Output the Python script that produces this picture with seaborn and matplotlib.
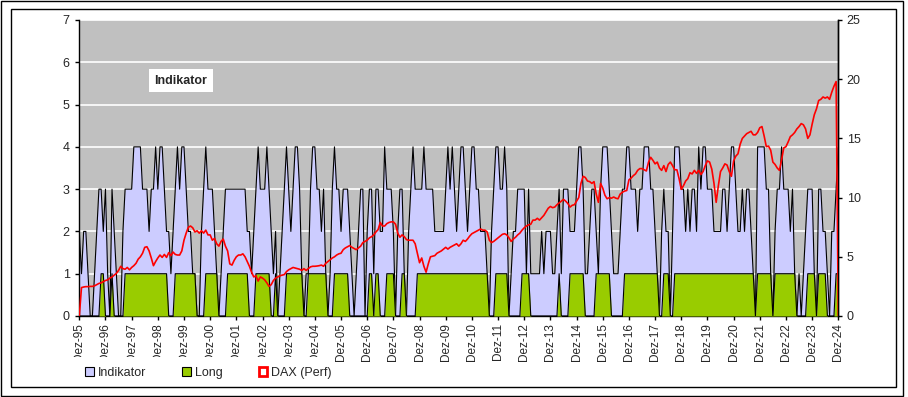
import numpy as np
import matplotlib
matplotlib.use("Agg")
import matplotlib.pyplot as plt
from matplotlib.patches import Patch, Rectangle
from matplotlib.transforms import Bbox
import seaborn as sns

# monthly values, Dez-95 .. Dez-24 (first value = Dez-95, then one row per year Jan..Dez)
indikator = [2,
    1, 2, 2, 1, 0, 0, 1, 2, 3, 3, 2, 3,
    1, 0, 3, 2, 1, 0, 0, 2, 3, 3, 3, 3,
    4, 4, 4, 4, 3, 3, 3, 2, 3, 3, 4, 3,
    4, 4, 3, 2, 2, 1, 2, 3, 4, 3, 4, 4,
    3, 2, 2, 1, 1, 0, 0, 2, 3, 4, 3, 3,
    3, 2, 1, 0, 1, 2, 3, 3, 3, 3, 3, 3,
    3, 3, 3, 3, 2, 2, 1, 2, 3, 4, 3, 3,
    3, 4, 3, 2, 1, 2, 0, 1, 2, 3, 4, 3,
    2, 3, 4, 4, 3, 1, 0, 1, 1, 3, 4, 4,
    3, 3, 2, 3, 1, 0, 1, 3, 4, 3, 3, 2,
    3, 3, 3, 2, 1, 0, 1, 2, 3, 3, 0, 2,
    3, 3, 1, 3, 3, 2, 2, 4, 3, 3, 3, 2,
    0, 2, 3, 3, 1, 0, 2, 3, 4, 3, 3, 3,
    3, 4, 3, 3, 3, 3, 2, 2, 2, 2, 2, 3,
    4, 3, 4, 3, 2, 3, 4, 4, 3, 2, 3, 4,
    4, 3, 3, 2, 2, 2, 1, 0, 2, 3, 4, 4,
    3, 3, 4, 3, 0, 1, 2, 2, 3, 3, 3, 3,
    1, 3, 1, 1, 1, 1, 1, 2, 1, 2, 2, 2,
    1, 1, 2, 3, 1, 3, 3, 3, 2, 2, 2, 3,
    4, 4, 3, 1, 1, 2, 3, 3, 2, 1, 3, 4,
    4, 4, 3, 2, 1, 1, 1, 2, 3, 3, 4, 4,
    3, 3, 3, 2, 3, 3, 4, 4, 4, 3, 3, 2,
    1, 0, 2, 3, 2, 2, 0, 2, 4, 4, 4, 3,
    3, 2, 3, 2, 3, 3, 2, 4, 3, 4, 4, 3,
    3, 3, 2, 2, 2, 2, 3, 3, 2, 3, 4, 4,
    3, 2, 2, 3, 2, 3, 3, 2, 1, 0, 4, 4,
    4, 4, 3, 3, 1, 0, 2, 3, 3, 4, 3, 3,
    3, 2, 3, 1, 0, 1, 0, 1, 2, 3, 3, 3,
    1, 0, 3, 3, 2, 2, 1, 0, 2, 2, 3, 4]

long_sig = [0,
    0, 0, 0, 0, 0, 0, 0, 0, 0, 1, 1, 0,
    0, 0, 1, 0, 0, 0, 0, 0, 1, 1, 1, 1,
    1, 1, 1, 1, 1, 1, 1, 1, 1, 1, 1, 1,
    1, 1, 1, 1, 0, 0, 0, 1, 1, 1, 1, 1,
    1, 1, 1, 1, 1, 0, 0, 0, 0, 1, 1, 1,
    1, 1, 1, 0, 0, 0, 0, 1, 1, 1, 1, 1,
    1, 1, 1, 1, 1, 0, 0, 0, 1, 1, 1, 1,
    1, 1, 1, 0, 0, 1, 0, 0, 0, 0, 1, 1,
    1, 1, 1, 1, 1, 1, 0, 0, 1, 1, 1, 1,
    1, 1, 1, 1, 1, 0, 0, 0, 1, 1, 1, 1,
    1, 1, 1, 0, 0, 0, 0, 0, 0, 0, 0, 0,
    1, 1, 0, 1, 1, 0, 0, 0, 1, 1, 1, 1,
    0, 0, 0, 1, 1, 0, 0, 0, 0, 0, 1, 1,
    1, 1, 1, 1, 1, 1, 1, 1, 1, 1, 1, 1,
    1, 1, 1, 1, 1, 1, 1, 1, 1, 1, 1, 1,
    1, 1, 1, 1, 1, 1, 1, 0, 0, 0, 1, 1,
    1, 1, 1, 1, 0, 0, 0, 0, 0, 0, 1, 1,
    1, 1, 0, 0, 0, 0, 0, 0, 0, 0, 0, 0,
    0, 0, 0, 1, 0, 0, 0, 0, 1, 1, 1, 1,
    1, 1, 1, 0, 0, 0, 0, 0, 1, 1, 1, 1,
    1, 1, 1, 0, 0, 0, 0, 0, 0, 1, 1, 1,
    1, 1, 1, 1, 1, 1, 1, 1, 1, 1, 1, 1,
    1, 0, 0, 1, 1, 1, 0, 0, 1, 1, 1, 1,
    1, 1, 1, 1, 1, 1, 1, 1, 1, 1, 1, 1,
    1, 1, 1, 1, 1, 1, 1, 1, 1, 1, 1, 1,
    1, 1, 1, 1, 1, 1, 1, 1, 1, 0, 1, 1,
    1, 1, 1, 1, 1, 0, 1, 1, 1, 1, 1, 1,
    1, 1, 1, 1, 0, 0, 0, 0, 0, 1, 1, 1,
    1, 0, 1, 1, 1, 1, 0, 0, 0, 0, 1, 1]

dax_perf = [0,
    2.4, 2.45, 2.48, 2.48, 2.5, 2.5, 2.55, 2.65, 2.75, 2.8, 2.9, 3.0,
    3.05, 3.2, 3.3, 3.45, 3.6, 3.85, 4.2, 4.0, 3.95, 4.1, 3.9, 4.1,
    4.25, 4.45, 4.8, 5.0, 5.3, 5.8, 5.85, 5.5, 4.9, 4.25, 4.6, 4.9,
    5.15, 4.95, 5.2, 4.95, 5.35, 5.1, 5.4, 5.2, 5.15, 5.15, 5.5, 6.4,
    7.0, 7.5, 7.6, 7.45, 7.1, 7.2, 7.0, 7.2, 7.0, 7.25, 6.85, 6.85,
    6.4, 6.55, 6.1, 5.9, 6.3, 6.5, 5.9, 5.5, 4.4, 4.3, 4.7, 5.0,
    5.15, 5.15, 5.25, 5.0, 4.6, 4.2, 3.7, 3.3, 3.4, 2.95, 3.3, 3.2,
    3.05, 2.8, 2.5, 2.65, 3.0, 3.2, 3.3, 3.4, 3.45, 3.5, 3.75, 3.9,
    4.0, 4.1, 4.05, 4.0, 3.95, 3.85, 4.0, 3.85, 4.0, 4.15, 4.2, 4.2,
    4.22, 4.25, 4.3, 4.2, 4.45, 4.6, 4.75, 4.9, 5.0, 5.15, 5.25, 5.3,
    5.6, 5.75, 5.85, 5.95, 5.8, 5.7, 5.6, 5.75, 5.9, 6.2, 6.3, 6.4,
    6.6, 6.7, 6.85, 7.1, 7.3, 7.9, 7.6, 7.6, 7.8, 7.9, 7.95, 7.95,
    7.75, 7.0, 6.65, 6.85, 6.7, 6.45, 6.4, 6.4, 6.4, 6.1, 5.3, 4.5,
    4.9, 4.2, 3.7, 4.4, 5.0, 5.05, 5.1, 5.3, 5.4, 5.5, 5.65, 5.8,
    5.65, 5.8, 5.9, 6.0, 6.1, 5.9, 6.1, 6.4, 6.3, 6.5, 6.75, 6.95,
    7.05, 7.15, 7.25, 7.35, 7.25, 7.25, 7.1, 6.4, 6.2, 6.3, 6.45, 6.6,
    6.75, 6.9, 6.95, 6.85, 6.6, 6.3, 6.5, 6.65, 6.85, 7.0, 7.25, 7.45,
    7.6, 7.7, 7.75, 8.1, 8.1, 8.25, 8.1, 8.3, 8.5, 8.8, 9.1, 9.25,
    9.15, 9.2, 9.4, 9.55, 9.7, 9.85, 9.7, 9.5, 9.2, 9.35, 9.4, 9.7,
    10.0, 11.2, 11.8, 11.7, 11.4, 11.35, 11.2, 11.35, 10.3, 9.6, 11.2, 10.8,
    10.2, 9.9, 10.0, 9.95, 10.05, 9.95, 9.9, 10.3, 10.45, 10.55, 10.6, 11.5,
    11.65, 11.85, 12.0, 12.3, 12.45, 12.45, 12.35, 12.25, 13.0, 13.4, 13.15, 12.85,
    13.0, 12.5, 12.3, 12.7, 12.2, 12.8, 13.0, 12.7, 12.35, 12.35, 11.6, 10.7,
    11.0, 11.4, 11.6, 12.1, 12.0, 12.3, 12.05, 12.3, 11.95, 12.2, 12.7, 13.1,
    13.0, 12.4, 11.2, 9.6, 11.0, 12.2, 12.5, 12.85, 12.75, 12.2, 11.8, 13.1,
    13.5, 13.7, 14.5, 15.0, 15.2, 15.4, 15.5, 15.6, 15.3, 15.3, 15.5, 15.9,
    16.0, 15.2, 14.3, 14.35, 14.0, 13.0, 12.8, 12.5, 12.3, 13.2, 14.2, 14.3,
    14.7, 15.15, 15.3, 15.5, 15.8, 16.0, 16.25, 16.15, 15.8, 15.0, 15.3, 16.2,
    17.0, 17.5, 18.2, 18.3, 18.5, 18.4, 18.5, 18.3, 18.9, 19.4, 19.8, 0]

year_labels = ["Dez-95", "Dez-96", "Dez-97", "Dez-98", "Dez-99", "Dez-00",
               "Dez-01", "Dez-02", "Dez-03", "Dez-04", "Dez-05", "Dez-06",
               "Dez-07", "Dez-08", "Dez-09", "Dez-10", "Dez-11", "Dez-12",
               "Dez-13", "Dez-14", "Dez-15", "Dez-16", "Dez-17", "Dez-18",
               "Dez-19", "Dez-20", "Dez-21", "Dez-22", "Dez-23", "Dez-24"]

sns.set_style("white")
plt.rcParams['font.family'] = ['Liberation Sans', 'DejaVu Sans']

W, H = 908, 397
fig = plt.figure(figsize=(W / 100, H / 100), dpi=100)
fig.patch.set_facecolor('white')

# chart frames (outer and inner border)
fig.add_artist(Rectangle((1 / W, 1 - 396 / H), 902 / W, 395 / H, transform=fig.transFigure,
                         fill=False, ec='black', lw=1))
fig.add_artist(Rectangle((10.5 / W, 1 - 386.5 / H), 885.5 / W, 378 / H, transform=fig.transFigure,
                         fill=False, ec='black', lw=1))

ax = fig.add_axes([79.3 / W, 1 - 316 / H, (838.3 - 79.3) / W, (316 - 20) / H])
ax.set_facecolor('#C0C0C0')

months = np.arange(len(indikator))

#------------------ AREAS (left axis) -----------------
ax.fill_between(months, indikator, color='#CCCCFF', lw=0, zorder=2)
sns.lineplot(x=months, y=indikator, ax=ax, color='black', lw=0.8, estimator=None,
             legend=False, zorder=3)
ax.fill_between(months, long_sig, color='#99CC00', lw=0, zorder=4)
sns.lineplot(x=months, y=long_sig, ax=ax, color='black', lw=0.8, estimator=None,
             legend=False, zorder=5)

ax.set_xlim(0, len(indikator) - 1)
ax.set_ylim(0, 7)
ax.set_yticks(range(0, 8))
ax.yaxis.grid(True, color='white', lw=1.2)
ax.xaxis.grid(False)
ax.set_axisbelow(True)
ax.set_xticks(range(0, len(indikator), 12))
ax.set_xticklabels(year_labels, rotation=90)
ax.set_xlabel('')
ax.set_ylabel('')

#------------------ DAX line (right axis) -----------------
ax2 = ax.twinx()
sns.lineplot(x=months, y=dax_perf, ax=ax2, color='#FF0000', lw=1.2, estimator=None,
             legend=False, zorder=6)
ax2.set_ylim(0, 25)
ax2.set_yticks(range(0, 26, 5))
ax2.set_ylabel('')
ax2.grid(False)

for a in (ax, ax2):
    a.spines['top'].set_visible(False)
    for side in ('left', 'right', 'bottom'):
        a.spines[side].set_color('black')
        a.spines[side].set_linewidth(1)
ax2.spines['left'].set_visible(False)
ax2.spines['bottom'].set_visible(False)

ax.tick_params(axis='y', direction='out', length=3, width=1, color='black',
               labelsize=9, pad=4, left=True)
ax.tick_params(axis='x', direction='out', length=3, width=1, color='black',
               labelsize=8.5, pad=2, bottom=True)
ax2.tick_params(axis='y', direction='out', length=3, width=1, color='black',
                labelsize=9, pad=3, right=True)

# label box inside the plot
fig.text(181 / W, 1 - 80.5 / H, 'Indikator', ha='center', va='center', fontsize=9,
         fontweight='bold', bbox=dict(boxstyle='square,pad=0.45', fc='white', ec='none'))

# legend
handles = [Patch(facecolor='#CCCCFF', edgecolor='black', lw=0.8),
           Patch(facecolor='#99CC00', edgecolor='black', lw=0.8),
           Patch(facecolor='white', edgecolor='#FF0000', lw=2)]
fig.legend(handles, ['Indikator', 'Long', 'DAX (Perf)'], loc='center left',
           bbox_to_anchor=(80 / W, 1 - 373 / H), ncol=3, frameon=False, fontsize=9,
           handlelength=0.7, handleheight=0.7, handletextpad=0.3, columnspacing=2.9,
           borderaxespad=0)

# the first labels are cut off at the bottom in the original
clip = Bbox([[0, H - 357], [W, H]])
for lab in ax.get_xticklabels()[:10]:
    lab.set_clip_box(clip)
    lab.set_clip_on(True)

fig.savefig('out.png', dpi=100, facecolor='white')
plt.close()
